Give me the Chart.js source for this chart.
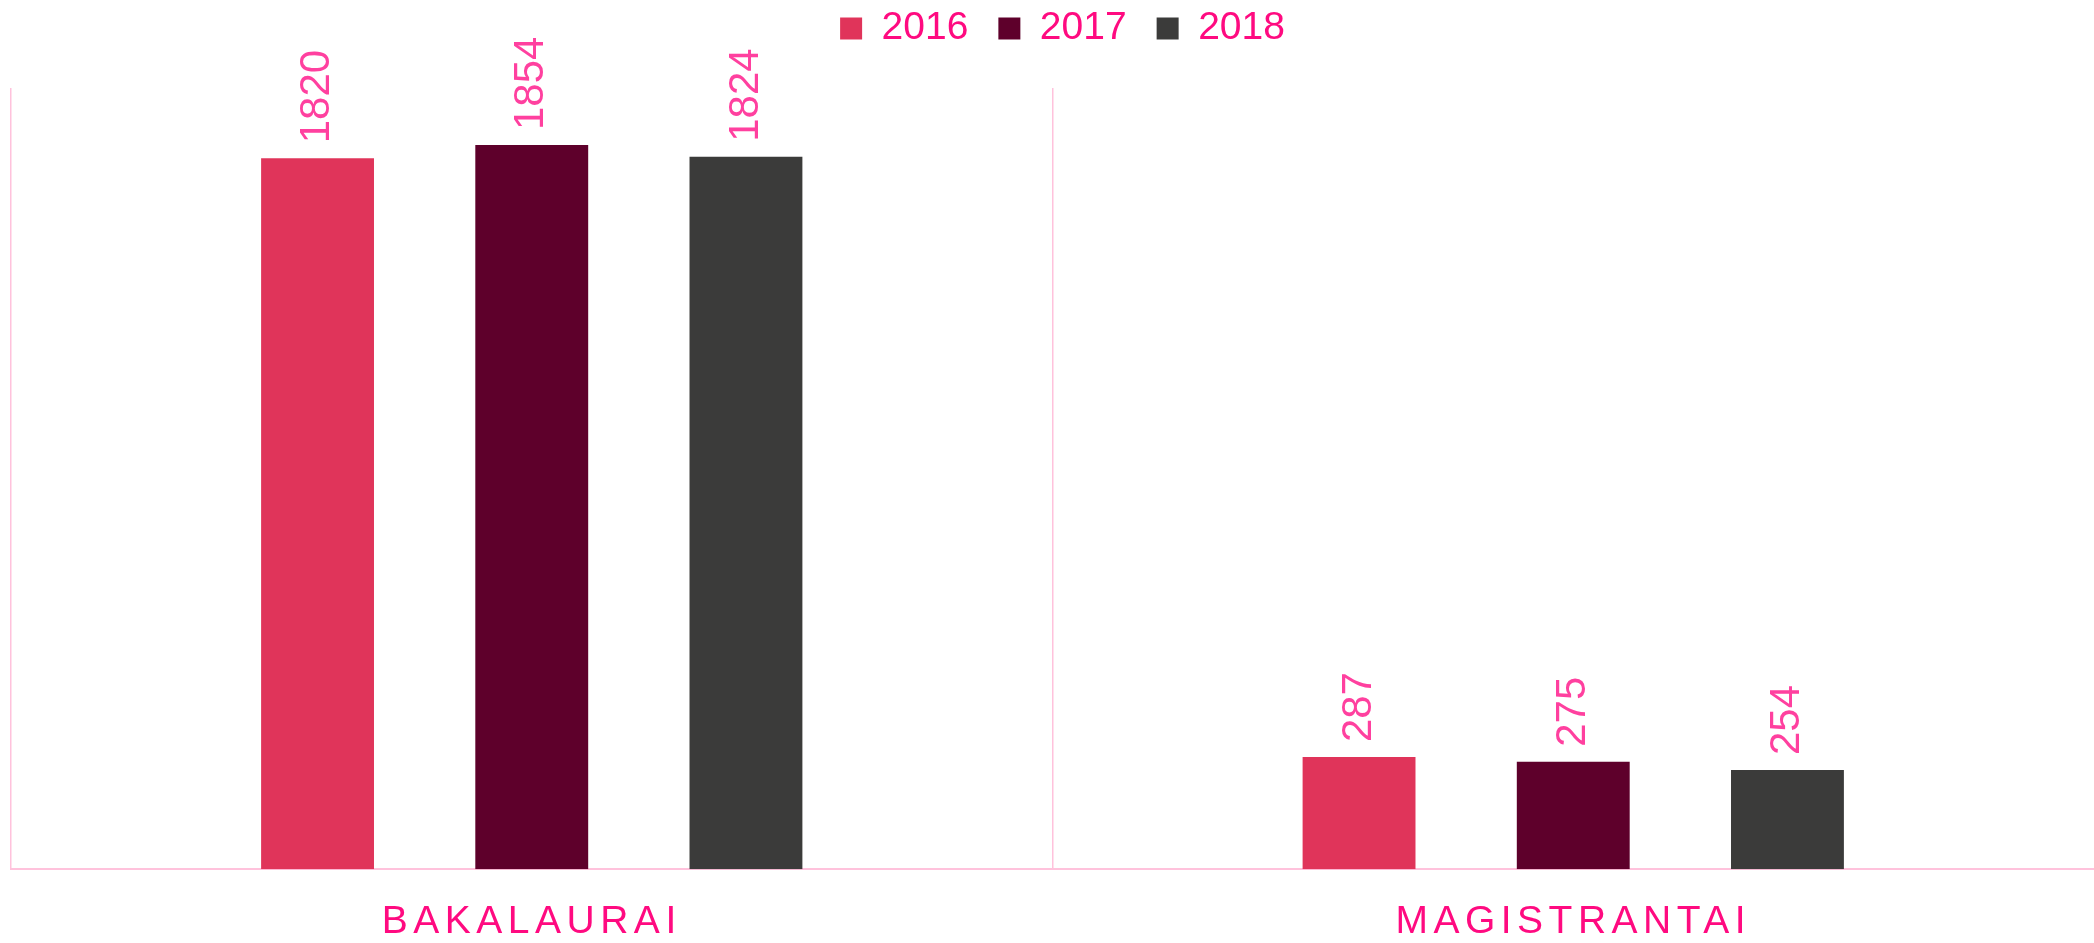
<!DOCTYPE html>
<html>
<head>
<meta charset="utf-8">
<title>Studentai</title>
<script src="https://cdn.jsdelivr.net/npm/chart.js@4.4.1/dist/chart.umd.min.js"></script>
<style>
    html, body { margin: 0; padding: 0; background: #fff; }
    #wrap { width: 2094px; height: 943px; }
</style>
</head>
<body>
<div id="wrap"><canvas id="chart" width="2094" height="943"></canvas></div>
<script>
const categories = ['BAKALAURAI', 'MAGISTRANTAI'];
const years = ['2016', '2017', '2018'];
const values2016 = [1820, 287];
const values2017 = [1854, 275];
const values2018 = [1824, 254];
const barColors = ['#e0345a', '#5e002b', '#3b3b3a'];

const pinkText = '#ff0a80';
const labelPink = '#ff409f';
const lineColor = '#ffc2dc';

Chart.defaults.font.family = '"Liberation Sans", Arial, sans-serif';

// values written upright above each bar
const barLabels = {
    id: 'barLabels',
    afterDatasetsDraw(chart) {
        const ctx = chart.ctx;
        ctx.save();
        ctx.font = '42px "Liberation Sans", Arial, sans-serif';
        ctx.fillStyle = labelPink;
        ctx.textAlign = 'left';
        ctx.textBaseline = 'middle';
        chart.data.datasets.forEach((ds, i) => {
            chart.getDatasetMeta(i).data.forEach((bar, j) => {
                ctx.save();
                ctx.translate(bar.x, bar.y - 15);
                ctx.rotate(-Math.PI / 2);
                ctx.fillText(ds.data[j], 0, 0);
                ctx.restore();
            });
        });
        ctx.restore();
        // category names are spaced out a bit
        ctx.letterSpacing = '5.5px';
    },
    afterDraw(chart) {
        chart.ctx.letterSpacing = '0px';
    }
};

const legendSpace = {
    id: 'legendSpace',
    beforeInit(chart) {
        const fit = chart.legend.fit;
        chart.legend.fit = function () {
            fit.call(this);
            this.height = 109;
        };
    },
    afterLayout(chart) {
        chart.legend.left += 10;
        chart.legend.right += 10;
    }
};

const data = {
    labels: categories,
    datasets: [
        {label: years[0], data: values2016, backgroundColor: barColors[0], borderWidth: 0},
        {label: years[1], data: values2017, backgroundColor: barColors[1], borderWidth: 0},
        {label: years[2], data: values2018, backgroundColor: barColors[2], borderWidth: 0}
    ]
};

new Chart(document.getElementById('chart').getContext('2d'), {
    type: 'bar',
    data: data,
    options: {
        responsive: false,
        animation: false,
        layout: {padding: {left: 11, right: 0, top: -21, bottom: -33}},
        datasets: {bar: {categoryPercentage: 0.617, barPercentage: 0.527}},
        plugins: {
            legend: {
                position: 'top',
                labels: {
                    boxWidth: 22,
                    boxHeight: 22,
                    padding: 30,
                    color: pinkText,
                    font: {size: 39}
                }
            },
            tooltip: {enabled: false}
        },
        scales: {
            x: {
                grid: {
                    // no line on the right edge
                    color: (c) => c.type === 'tick' ? lineColor : 'rgba(0,0,0,0)',
                    lineWidth: 1.5,
                    drawTicks: false,
                    offset: true
                },
                border: {color: lineColor, width: 2},
                ticks: {color: pinkText, font: {size: 39}, padding: 30, z: 1}
            },
            y: {display: false, min: 0, max: 2000}
        }
    },
    plugins: [barLabels, legendSpace]
});
</script>
</body>
</html>
